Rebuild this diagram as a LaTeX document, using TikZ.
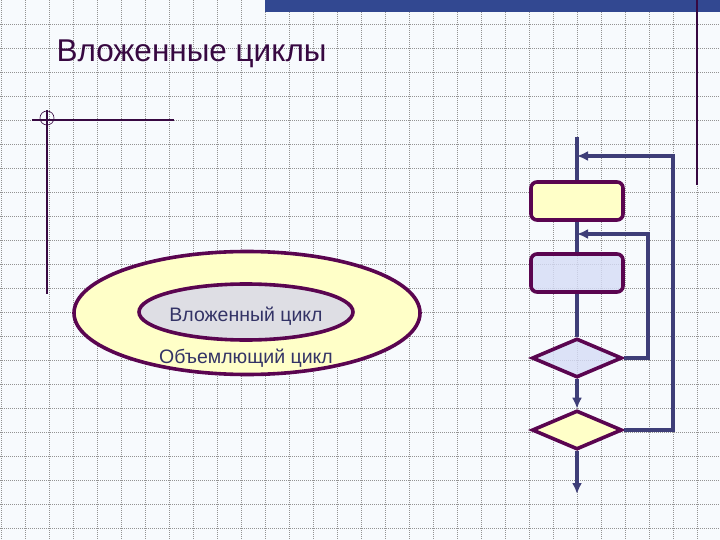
\documentclass[tikz,border=0pt]{standalone}
\usepackage{fontspec}
\setmainfont{Liberation Sans}
\usetikzlibrary{shapes.geometric,arrows.meta}
\definecolor{edge}{RGB}{90,5,80}
\definecolor{flowc}{RGB}{62,62,120}
\definecolor{pale}{RGB}{255,255,200}
\definecolor{lilac}{RGB}{214,220,246}
\definecolor{mist}{RGB}{222,222,228}
\definecolor{ink}{RGB}{51,51,102}
\definecolor{titlec}{RGB}{55,8,65}
\definecolor{band}{RGB}{50,72,145}
\definecolor{paper}{RGB}{247,250,253}
\begin{document}
\begin{tikzpicture}[x=1pt,y=-1pt,
  gridl/.style={gray!85,line width=0.8pt,dash pattern=on 1pt off 1pt},
  blk/.style={draw=edge,line width=3.6pt,rounded corners=6pt,minimum width=92pt,minimum height=38pt,inner sep=0pt},
  cond/.style={diamond,draw=edge,line width=3.6pt,minimum width=90pt,minimum height=39pt,inner sep=0pt},
  flowline/.style={draw=flowc,line width=3.5pt},
  arr/.style={-{Latex[length=11pt,width=10pt]}},
  lbl/.style={text=ink,font=\fontsize{19.5}{22}\selectfont}]
  \useasboundingbox (0,0) rectangle (720,540);
  \fill[paper] (0,0) rectangle (720,540);
  \foreach \i in {0,...,29}
    \draw[gridl] (24*\i+1,0) -- (24*\i+1,540);
  \foreach \j in {1,...,22}
    \draw[gridl] (0,24*\j) -- (720,24*\j);
  \fill[band] (265,0) rectangle (720,12);
  \draw[titlec,line width=1.5pt] (697,0) -- (697,185);
  \node[anchor=base west,text=titlec,font=\fontsize{31.5}{36}\selectfont] (title) at (53,62) {Вложенные циклы};
  \draw[titlec,line width=1.2pt] (32,120) -- (174,120);
  \draw[titlec,line width=1.2pt] (47,110) -- (47,294);
  \draw[titlec,line width=0.6pt] (47,118) circle (7);
  \node[ellipse,draw=edge,line width=3.6pt,fill=pale,minimum width=346pt,minimum height=123pt] (outer) at (247,313) {};
  \node[ellipse,draw=edge,line width=3.6pt,fill=mist,minimum width=214pt,minimum height=56pt] (inner) at (246,312) {};
  \node[lbl] (inlbl) at (246,316) {Вложенный цикл};
  \node[lbl] (outlbl) at (246,358) {Объемлющий цикл};
  \node[blk,fill=pale] (b1) at (577,201) {};
  \node[blk,fill=lilac,fill opacity=0.8] (b2) at (577,273) {};
  \node[cond,fill=lilac,fill opacity=0.8] (c1) at (577,358) {};
  \node[cond,fill=pale] (c2) at (577,430) {};
  \coordinate (start) at (577,137);
  \coordinate (finish) at (577,494);
  \coordinate (in1) at (577,156);
  \coordinate (in2) at (577,234);
  \coordinate (o1) at (673,156);
  \coordinate (o2) at (648,234);
  \draw[flowline] (start) -- (b1.north);
  \draw[flowline] (b1.south) -- (b2.north);
  \draw[flowline] (b2.south) -- (c1.north);
  \draw[flowline,arr] (c1.south) -- (c2.north);
  \draw[flowline,arr] (c2.south) -- (finish);
  \draw[flowline,arr] (c2.east) -| (o1) -- (in1);
  \draw[flowline,arr] (c1.east) -| (o2) -- (in2);
\end{tikzpicture}
\end{document}
